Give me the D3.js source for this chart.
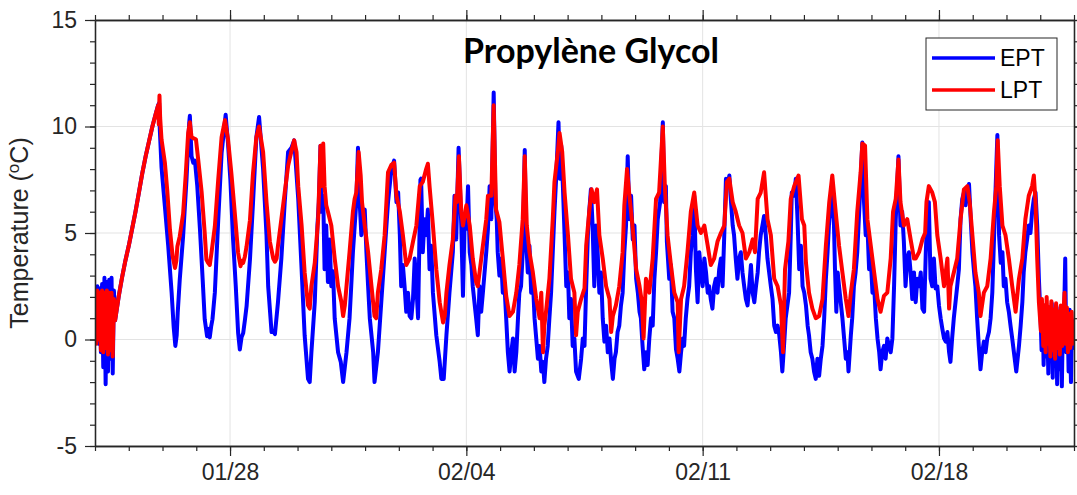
<!DOCTYPE html>
<html>
<head>
<meta charset="utf-8">
<script src="https://cdn.jsdelivr.net/npm/d3@7"></script>
<style>
  body { margin: 0; background: #fff; }
  svg { display: block; }
</style>
</head>
<body>
<svg id="chart" width="1077" height="495"></svg>
<script>
// Record period (UTC) and axis labelling
const startDate = Date.UTC(2019, 0, 24);
const endDate = Date.UTC(2019, 1, 22);
const yTicks = [-5, 0, 5, 10, 15];
const seriesNames = ["EPT", "LPT"];
const chartTitle = "Propylène Glycol";

// Readings: [days since 24 Jan 00:00, temperature °C]
const eptReadings = [
  [0.00,2.2],[0.035,0.3],[0.07,2.5],[0.105,-0.2],[0.14,2.4],[0.175,-0.6],[0.21,2.6],[0.245,-1.3],[0.28,2.9],[0.315,-2.1],
  [0.35,2.7],[0.385,-1.5],[0.42,2.8],[0.455,-0.9],[0.49,2.9],[0.525,-1.6],[0.56,2.3],[0.595,0.9],
  [0.70,2.0],[0.80,2.9],[0.90,3.7],[1.00,4.4],[1.10,5.2],[1.20,6.0],[1.30,6.9],[1.40,7.8],[1.50,8.6],[1.60,9.3],
  [1.70,10.0],[1.80,10.6],[1.87,11.0],[1.90,11.1],
  [1.92,9.85],[1.97,8.1],[2.07,6.25],[2.17,4.37],[2.27,2.2],[2.33,0.6],[2.38,-0.3],[2.42,0.2],[2.45,1.25],[2.51,2.8],
  [2.61,4.84],[2.71,7.5],[2.79,10.15],[2.81,10.5],
  [2.86,8.6],[2.91,8.3],[2.96,8.4],[3.03,7.2],[3.11,5.15],[3.19,2.8],[3.25,0.95],[3.32,0.15],[3.36,0.5],[3.40,0.1],
  [3.44,0.6],[3.48,0.95],[3.55,2.2],[3.65,5.6],[3.75,8.75],[3.87,10.55],
  [3.94,9.2],[4.01,7.5],[4.09,4.7],[4.17,2.5],[4.24,0.3],[4.29,-0.47],[4.34,0.1],[4.39,0.3],[4.44,0.9],[4.49,1.56],
  [4.59,3.75],[4.68,6.4],[4.78,9.5],[4.86,10.45],
  [4.98,8.0],[5.08,4.9],[5.13,2.5],[5.23,0.35],[5.28,0.4],[5.33,0.25],[5.42,1.75],[5.52,3.8],[5.62,6.45],[5.72,8.8],
  [5.82,9.0],[5.90,9.35],
  [6.02,6.6],[6.12,3.3],[6.21,0.2],[6.31,-1.85],[6.36,-2.0],[6.41,-0.6],[6.51,1.75],[6.59,5.35],[6.63,6.45],[6.68,9.1],
  [6.70,6.0],[6.76,6.75],[6.80,3.3],[6.85,5.35],[6.90,2.7],[6.95,4.7],[7.00,2.5],[7.05,3.2],[7.10,1.0],[7.20,-0.6],
  [7.28,-1.05],[7.35,-2.0],[7.45,-0.6],[7.54,1.0],[7.59,2.5],[7.64,4.1],[7.74,6.45],[7.79,9.0],[7.84,6.45],[7.89,4.9],
  [7.94,6.0],[7.99,6.1],[8.04,4.1],[8.09,2.5],[8.14,1.0],[8.24,-0.6],[8.28,-2.0],[8.38,-0.6],[8.48,1.75],[8.58,4.1],
  [8.68,6.45],[8.78,8.0],[8.86,8.4],[8.93,6.45],[8.98,6.9],[9.03,4.9],[9.07,2.5],[9.12,3.5],[9.17,2.5],[9.22,1.3],
  [9.27,2.2],[9.32,1.1],[9.37,1.0],[9.42,1.9],[9.47,3.8],[9.52,2.5],[9.57,1.0],[9.64,7.5],
  [9.66,7.55],[9.71,4.1],[9.76,5.65],[9.81,4.9],[9.86,6.1],[9.91,3.3],[9.96,4.4],[10.01,2.2],[10.11,0.2],[10.21,-1.05],
  [10.26,-1.85],[10.33,-1.85],[10.41,0.2],[10.50,2.2],[10.55,3.15],[10.60,4.1],[10.65,6.75],[10.70,4.7],[10.77,9.0],[10.82,6.75],
  [10.85,5.35],[10.90,2.05],[10.95,5.65],[11.00,5.2],[11.05,7.2],[11.10,4.1],[11.15,3.5],[11.19,2.5],[11.24,1.75],[11.29,1.0],
  [11.34,0.2],[11.39,2.5],[11.44,1.3],[11.49,2.2],[11.54,3.15],[11.59,4.1],[11.64,5.2],[11.69,7.2],[11.74,5.65],[11.81,11.6],
  [11.86,6.45],[11.90,5.65],[11.93,4.1],[11.98,3.0],[12.03,3.8],[12.08,2.2],[12.13,2.5],[12.18,1.0],[12.23,-0.6],[12.28,-1.5],
  [12.33,-0.6],[12.38,0.05],[12.43,-1.5],[12.48,-0.6],[12.53,1.0],[12.57,2.2],[12.62,2.5],[12.67,4.1],[12.73,8.9],[12.77,4.7],
  [12.82,3.15],[12.87,4.4],[12.92,2.2],[12.97,2.85],[13.02,1.0],[13.07,0.05],[13.12,-0.9],[13.17,-0.3],[13.22,-1.5],[13.27,-1.05],
  [13.31,-2.0],[13.36,-0.9],[13.41,-0.3],[13.46,1.0],[13.51,2.2],[13.56,4.1],[13.61,6.0],[13.66,7.55],[13.73,10.2],[13.77,7.55],
  [13.81,9.1],[13.86,7.2],[13.91,4.9],[13.96,2.5],[14.01,3.15],[14.05,1.0],[14.10,1.9],[14.15,-0.3],[14.20,0.05],[14.25,-1.5],
  [14.33,-1.85],[14.40,-0.9],[14.45,0.05],[14.50,-0.3],
  [14.55,2.5],[14.60,4.9],[14.64,6.0],[14.69,7.05],[14.74,5.35],[14.79,2.5],[14.84,5.35],[14.89,4.1],[14.94,2.2],[14.99,3.15],
  [15.04,1.0],[15.09,-0.1],[15.14,0.65],[15.19,-0.6],[15.24,0.05],[15.29,-1.05],[15.34,-1.85],[15.39,-0.9],[15.43,-0.6],[15.48,0.35],
  [15.53,0.65],[15.58,1.6],[15.63,2.2],[15.68,4.1],[15.73,5.35],[15.78,8.6],[15.83,5.65],[15.88,6.75],[15.93,4.7],[15.98,5.35],
  [16.03,2.85],[16.08,2.2],[16.13,1.3],[16.17,1.0],[16.22,-0.3],[16.27,-1.4],[16.32,-0.6],[16.37,-1.2],[16.42,0.05],[16.47,1.0],
  [16.52,0.65],[16.57,2.85],[16.62,4.1],[16.67,5.65],[16.74,6.45],[16.82,10.2],[16.86,6.45],[16.91,7.2],[16.94,4.6],[17.01,2.85],
  [17.06,3.5],[17.11,1.3],[17.16,1.0],[17.21,-0.45],[17.26,-0.9],[17.31,-1.5],[17.36,-0.6],[17.41,0.05],[17.45,-0.3],[17.50,1.0],
  [17.55,1.9],[17.60,2.5],[17.65,4.1],[17.70,4.9],[17.75,6.75],[17.80,3.3],[17.85,1.75],[17.90,4.1],[17.95,3.15],[18.00,2.5],
  [18.05,3.8],[18.10,3.15],[18.15,2.2],[18.19,2.5],[18.24,1.9],[18.29,1.45],[18.34,2.5],[18.39,2.85],[18.44,2.2],[18.49,3.3],
  [18.54,3.8],[18.59,2.5],[18.64,4.9],[18.69,7.55],[18.74,7.2],[18.79,7.7],[18.84,6.45],[18.89,5.35],[18.93,4.9],[18.98,3.8],
  [19.03,2.85],[19.08,3.8],[19.13,4.1],[19.18,3.15],[19.23,2.5],[19.28,1.9],[19.33,1.6],[19.38,2.5],[19.43,3.5],[19.48,2.2],
  [19.53,1.75],[19.58,2.5],[19.63,3.15],[19.67,4.1],[19.72,4.9],[19.77,5.35],[19.82,5.8],[19.87,4.9],[19.92,3.8],[19.97,3.15],
  [20.02,2.5],[20.07,1.9],[20.12,0.65],[20.17,0.35],[20.22,0.65],[20.27,0.2],[20.32,-0.6],[20.36,-1.5],[20.41,-0.3],[20.46,1.0],
  [20.51,1.6],[20.56,2.2],[20.61,4.9],[20.64,6.9],[20.71,6.75],[20.76,7.55],[20.81,5.65],[20.86,3.3],[20.91,4.4],[20.96,2.5],
  [21.01,2.2],[21.06,1.6],[21.11,0.65],[21.15,0.2],[21.20,-0.6],[21.25,-0.9],[21.30,-1.5],[21.35,-1.85],[21.40,-0.9],[21.45,-1.7],
  [21.50,-0.9],[21.55,-0.3],[21.60,1.0],[21.65,2.85],[21.70,4.1],[21.75,5.65],[21.80,6.3],[21.84,6.75],[21.89,5.35],[21.92,3.3],
  [21.96,1.3],[22.00,3.15],[22.04,2.5],[22.09,1.75],[22.14,1.0],[22.19,0.05],[22.24,-0.9],[22.29,-0.6],[22.32,-1.5],[22.39,0.2],
  [22.43,1.0],[22.48,2.5],[22.53,3.15],[22.58,4.1],[22.65,6.45],[22.73,9.25],[22.78,6.45],[22.83,4.9],[22.88,5.35],[22.93,3.3],
  [22.98,3.8],[23.03,2.2],[23.08,2.5],[23.13,1.0],[23.18,0.05],[23.23,-0.6],[23.27,-1.4],[23.32,-0.6],[23.37,-0.3],[23.42,-0.9],
  [23.47,0.05],[23.52,-0.3],[23.57,-0.6],[23.62,0.05],[23.67,2.5],[23.72,5.65],[23.80,8.6],[23.86,5.35],[23.91,6.0],[23.96,4.6],
  [24.01,2.5],[24.06,3.8],[24.11,4.1],
  [24.16,3.15],[24.21,1.9],[24.26,3.15],[24.31,1.75],[24.36,2.85],[24.41,2.5],[24.46,3.15],[24.51,1.45],[24.56,1.3],[24.61,4.1],
  [24.66,6.0],[24.70,6.45],[24.75,2.85],[24.80,2.5],[24.85,3.8],[24.90,2.4],[24.95,2.5],[25.00,1.6],[25.05,1.0],[25.10,0.5],
  [25.15,0.05],[25.20,-0.1],[25.25,0.35],[25.30,-0.6],[25.34,-1.05],[25.39,0.05],[25.44,1.0],[25.49,1.75],[25.54,2.5],[25.59,3.3],
  [25.64,5.65],[25.69,6.6],[25.74,6.9],[25.79,6.3],[25.84,7.05],[25.89,7.3],[25.94,5.65],[25.99,4.1],[26.04,3.15],[26.08,2.5],
  [26.13,1.0],[26.18,-0.3],[26.23,-1.4],[26.28,-0.6],[26.33,-0.1],[26.38,-0.6],[26.43,0.05],[26.48,0.35],[26.53,1.0],[26.58,2.2],
  [26.63,4.7],[26.68,7.2],[26.73,9.6],[26.78,4.9],[26.83,3.6],[26.88,4.1],[26.92,2.5],[26.97,2.85],[27.02,1.75],[27.07,1.3],
  [27.12,0.65],[27.17,0.05],[27.22,-0.6],[27.29,-1.5],[27.37,-0.3],[27.42,0.65],[27.47,1.75],[27.51,3.15],[27.56,4.1],[27.61,4.7],
  [27.66,5.35],[27.71,5.0],[27.76,6.0],[27.81,6.6],[27.86,6.9],[27.91,5.35],[27.96,2.85],[28.01,1.0],
  [28.04,-0.5],[28.07,1.4],[28.10,-1.2],[28.14,1.6],[28.17,-0.8],[28.20,1.2],[28.24,-1.6],[28.27,1.5],[28.30,-1.0],[28.34,1.7],
  [28.37,-1.8],[28.40,1.3],[28.44,-1.2],[28.47,1.6],[28.50,-2.1],[28.54,1.2],[28.57,-1.4],[28.60,1.5],[28.64,-2.2],[28.67,0.8],
  [28.71,1.4],[28.74,3.8],[28.77,-0.6],[28.81,1.2],[28.84,-1.5],[28.87,1.4],[28.91,-2.0],[28.94,0.9],[28.97,-0.4],[29.0,0.6]
];

const lptReadings = [
  [0.00,2.0],[0.035,-0.2],[0.07,2.3],[0.105,0.0],[0.14,2.2],[0.175,-0.5],[0.21,2.3],[0.245,-0.6],[0.28,2.2],[0.315,-0.4],
  [0.35,2.3],[0.385,-0.7],[0.42,2.2],[0.455,-0.5],[0.49,2.2],[0.525,-0.8],[0.56,1.9],[0.595,0.9],
  [0.70,2.0],[0.80,2.9],[0.90,3.7],[1.00,4.4],[1.10,5.2],[1.20,6.0],[1.30,6.9],[1.40,7.8],[1.50,8.6],[1.60,9.3],
  [1.70,10.0],[1.80,10.6],[1.87,11.0],[1.89,10.1],[1.91,11.45],[1.93,10.4],[1.97,9.4],[2.07,8.3],[2.14,7.0],[2.22,5.15],
  [2.30,3.9],[2.37,3.36],[2.41,3.7],[2.44,4.37],[2.51,4.84],[2.61,5.9],[2.69,7.8],[2.76,9.7],[2.81,10.2],[2.86,9.5],
  [2.91,9.45],[2.99,9.4],[3.06,8.4],[3.16,6.9],[3.25,5.0],[3.30,3.75],[3.35,3.6],[3.40,3.5],[3.45,4.06],[3.55,5.3],
  [3.65,7.5],[3.75,9.5],[3.85,10.3],[3.94,9.4],[4.04,7.8],[4.14,5.95],[4.24,4.06],[4.31,3.44],[4.36,3.7],[4.39,3.6],
  [4.44,3.9],[4.49,4.37],[4.59,5.6],[4.68,7.8],[4.78,9.5],[4.86,10.0],
  [4.98,8.8],[5.08,6.45],[5.18,4.6],[5.28,3.8],[5.33,3.65],[5.38,3.8],[5.42,4.4],[5.52,5.65],[5.62,6.9],[5.72,8.15],
  [5.82,8.85],[5.90,9.35],[5.97,8.8],[6.02,7.2],[6.12,5.35],[6.21,3.15],[6.31,1.6],[6.36,1.45],[6.41,2.5],[6.51,3.6],
  [6.61,5.65],[6.68,9.1],[6.70,7.2],[6.76,9.2],[6.80,7.2],[6.85,6.3],[6.90,6.0],[7.00,5.35],[7.10,3.8],[7.20,2.5],
  [7.30,1.75],[7.35,1.1],[7.40,1.6],[7.45,2.5],[7.54,4.1],[7.64,6.0],[7.69,6.6],[7.74,6.9],[7.81,8.8],[7.87,7.7],
  [7.91,6.45],[7.99,5.35],[8.09,4.1],[8.19,2.5],[8.28,1.1],[8.33,1.0],[8.38,2.2],[8.48,3.3],[8.58,4.9],[8.68,7.85],
  [8.78,8.2],[8.86,8.3],[8.93,6.75],[9.03,6.0],[9.12,4.9],[9.22,3.5],[9.32,3.8],[9.42,4.6],[9.52,5.35],[9.62,7.2],
  [9.71,7.4],[9.81,8.0],[9.86,8.25],[9.91,7.2],[10.01,5.35],[10.11,3.3],[10.21,1.75],[10.31,0.8],[10.36,1.1],[10.41,2.2],
  [10.50,3.5],[10.60,4.7],[10.68,6.75],[10.72,6.45],[10.78,8.6],[10.85,6.0],[10.90,5.35],[11.00,6.3],[11.10,5.35],[11.19,3.8],
  [11.29,2.7],[11.34,2.5],[11.39,3.15],[11.49,4.4],[11.59,5.65],[11.64,6.75],[11.74,6.75],[11.81,11.0],[11.88,6.1],[11.98,5.5],
  [12.08,3.8],[12.18,2.05],[12.28,1.1],[12.38,1.3],[12.48,2.2],[12.57,3.5],[12.67,5.65],[12.73,8.6],[12.79,5.35],[12.87,4.1],
  [12.97,3.15],[13.07,1.9],[13.17,1.0],[13.22,2.2],[13.27,-0.6],[13.31,0.65],[13.36,1.3],[13.46,2.85],[13.56,5.65],[13.61,7.4],
  [13.71,8.8],[13.76,9.7],[13.84,8.8],[13.91,6.9],[14.01,4.9],[14.10,2.85],[14.20,2.2],[14.25,0.2],[14.30,1.3],[14.40,1.9],
  [14.50,2.4],[14.55,4.4],[14.64,6.0],[14.71,7.05],[14.79,6.45],[14.87,7.05],[14.94,4.9],[15.04,3.8],[15.14,2.5],[15.24,1.9],
  [15.29,0.35],[15.34,1.1],[15.43,1.6],[15.53,2.5],[15.63,4.1],[15.68,6.3],[15.76,8.0],[15.83,6.75],[15.93,5.2],[16.03,3.3],
  [16.13,2.5],[16.20,1.75],[16.25,0.05],[16.32,2.85],[16.42,2.2],[16.52,3.8],[16.62,6.6],[16.71,6.9],[16.82,10.0],[16.88,7.2],
  [16.96,4.9],[17.06,3.5],[17.16,2.2],[17.26,1.75],[17.29,-0.6],[17.36,1.9],[17.45,2.5],[17.55,4.1],[17.65,6.0],[17.75,6.9],
  [17.85,5.35],[17.95,5.0],[18.05,5.35],[18.15,4.4],[18.24,3.5],[18.34,3.8],[18.44,4.6],[18.54,5.0],[18.64,5.35],[18.72,7.4],
  [18.79,7.55],[18.89,6.45],[18.98,6.0],[19.08,5.35],[19.18,5.0],[19.28,3.8],[19.38,4.1],
  [19.48,4.7],[19.55,4.1],[19.63,6.6],[19.72,6.9],[19.82,7.85],[19.92,5.65],[20.02,4.9],[20.12,2.85],[20.22,2.5],[20.32,1.6],
  [20.38,-0.6],[20.44,3.3],[20.54,4.6],[20.61,6.6],[20.71,7.2],[20.84,7.7],[20.94,5.65],[21.01,5.35],[21.06,3.6],[21.15,2.2],
  [21.25,1.45],[21.35,1.0],[21.45,1.1],[21.55,1.9],[21.65,4.4],[21.75,6.45],[21.84,7.7],[21.94,6.0],[22.04,4.4],[22.14,3.15],
  [22.24,1.9],[22.32,1.1],[22.39,2.2],[22.48,3.3],[22.58,6.0],[22.68,7.85],[22.73,9.2],[22.81,9.1],[22.88,5.65],[22.98,4.4],
  [23.08,3.15],[23.18,1.9],[23.27,1.3],[23.37,2.05],[23.47,2.2],[23.57,3.8],[23.64,6.0],[23.72,6.6],[23.80,8.45],[23.86,6.45],
  [23.96,5.35],[24.06,5.65],[24.16,4.7],[24.26,3.8],
  [24.31,3.8],[24.41,4.1],[24.51,4.7],[24.59,5.0],[24.63,6.45],[24.70,7.2],[24.80,6.9],[24.88,6.45],[24.95,4.9],[25.05,3.8],
  [25.15,2.5],[25.25,3.8],[25.30,1.45],[25.34,2.5],[25.44,3.15],[25.54,3.8],[25.64,5.65],[25.74,7.05],[25.84,7.2],[25.91,6.45],
  [25.99,4.9],[26.08,3.15],[26.18,2.2],[26.23,1.1],[26.33,2.2],[26.43,2.5],[26.53,3.8],[26.63,6.0],[26.70,7.2],[26.74,9.35],
  [26.80,7.2],[26.88,5.35],[26.97,4.9],[27.07,3.8],[27.17,2.5],[27.27,1.3],[27.37,2.85],[27.47,3.8],[27.56,5.65],[27.66,6.75],
  [27.76,7.2],[27.81,7.7],[27.86,6.45],[27.91,3.8],[27.96,1.75],
  [28.02,0.4],[28.05,1.9],[28.09,-0.3],[28.12,1.6],[28.16,-0.6],[28.19,2.0],[28.23,-0.2],[28.26,1.5],[28.30,-0.8],[28.33,1.8],
  [28.37,-0.5],[28.40,1.4],[28.44,-0.9],[28.47,1.7],[28.51,-0.4],[28.54,1.3],[28.58,-0.7],[28.61,1.6],[28.65,-0.3],[28.68,1.0],
  [28.72,2.2],[28.75,-0.2],[28.79,1.5],[28.82,-0.6],[28.86,1.2],[28.89,-0.4],[28.93,1.3],[28.96,-0.2],[29.0,0.8]
];

// ---- Layout ----
const svg = d3.select("#chart");
const plot = { left: 95, right: 1074, top: 20, bottom: 446 };
const axisColor = "#262626";
const tickFont = "'Liberation Sans', Arial, Helvetica, sans-serif";
const DAY = 864e5;

const x = d3.scaleUtc()
  .domain([new Date(startDate), new Date(endDate)])
  .range([plot.left, plot.right]);
const y = d3.scaleLinear()
  .domain([d3.min(yTicks), d3.max(yTicks)])
  .range([plot.bottom, plot.top]);

const majorDates = d3.utcMonday.range(x.domain()[0], x.domain()[1]);
const minorDates = d3.utcDay.range(x.domain()[0], new Date(endDate + 1));
const minorY = d3.range(d3.min(yTicks), d3.max(yTicks) + 0.5, 1);
const fmt = d3.utcFormat("%m/%d");

// Grid lines at major ticks
const grid = svg.append("g").attr("stroke", "#e3e3e3").attr("stroke-width", 1);
grid.selectAll("line.gx").data(majorDates).join("line")
  .attr("x1", d => x(d)).attr("x2", d => x(d))
  .attr("y1", plot.top).attr("y2", plot.bottom);
grid.selectAll("line.gy").data(yTicks).join("line")
  .attr("x1", plot.left).attr("x2", plot.right)
  .attr("y1", d => y(d)).attr("y2", d => y(d));

// Series lines
svg.append("defs").append("clipPath").attr("id", "clip")
  .append("rect").attr("x", plot.left).attr("y", plot.top)
  .attr("width", plot.right - plot.left).attr("height", plot.bottom - plot.top);

const line = d3.line()
  .x(d => x(new Date(startDate + d[0] * DAY)))
  .y(d => y(d[1]));

const series = [
  { name: seriesNames[0], data: eptReadings, color: "#0000ff" },
  { name: seriesNames[1], data: lptReadings, color: "#ff0000" }
];

svg.append("g").attr("clip-path", "url(#clip)")
  .selectAll("path").data(series).join("path")
  .attr("d", d => line(d.data))
  .attr("fill", "none")
  .attr("stroke", d => d.color)
  .attr("stroke-width", 4)
  .attr("stroke-linejoin", "round")
  .attr("stroke-linecap", "round");

// ---- Axes (ticks outward on all four sides) ----
function styleAxis(g) {
  g.select(".domain").attr("stroke", axisColor).attr("stroke-width", 1.3);
  g.selectAll(".tick line").attr("stroke", axisColor).attr("stroke-width", 1.2);
  g.selectAll(".tick text").attr("fill", axisColor)
    .style("font-family", tickFont).style("font-size", "23px");
}

// bottom
svg.append("g").attr("transform", `translate(0,${plot.bottom})`)
  .call(d3.axisBottom(x).tickValues(minorDates).tickSize(5).tickSizeOuter(0).tickFormat(""))
  .call(styleAxis);
svg.append("g").attr("transform", `translate(0,${plot.bottom})`)
  .call(d3.axisBottom(x).tickValues(majorDates).tickSize(10).tickSizeOuter(0).tickPadding(8).tickFormat(fmt))
  .call(styleAxis);
// top
svg.append("g").attr("transform", `translate(0,${plot.top})`)
  .call(d3.axisTop(x).tickValues(minorDates).tickSize(5).tickSizeOuter(0).tickFormat(""))
  .call(styleAxis);
svg.append("g").attr("transform", `translate(0,${plot.top})`)
  .call(d3.axisTop(x).tickValues(majorDates).tickSize(10).tickSizeOuter(0).tickFormat(""))
  .call(styleAxis);
// left (plain hyphen for negative labels)
svg.append("g").attr("transform", `translate(${plot.left},0)`)
  .call(d3.axisLeft(y).tickValues(minorY).tickSize(5).tickSizeOuter(0).tickFormat(""))
  .call(styleAxis);
svg.append("g").attr("transform", `translate(${plot.left},0)`)
  .call(d3.axisLeft(y).tickValues(yTicks).tickSize(10).tickSizeOuter(0).tickPadding(8).tickFormat(d => String(d)))
  .call(styleAxis);
// right
svg.append("g").attr("transform", `translate(${plot.right},0)`)
  .call(d3.axisRight(y).tickValues(minorY).tickSize(5).tickSizeOuter(0).tickFormat(""))
  .call(styleAxis);
svg.append("g").attr("transform", `translate(${plot.right},0)`)
  .call(d3.axisRight(y).tickValues(yTicks).tickSize(10).tickSizeOuter(0).tickFormat(""))
  .call(styleAxis);

// ---- Y axis title with superscript ----
const yTitle = svg.append("text")
  .attr("transform", `translate(28,${(plot.top + plot.bottom) / 2}) rotate(-90)`)
  .attr("text-anchor", "middle")
  .attr("fill", axisColor)
  .style("font-family", tickFont)
  .style("font-size", "25px");
yTitle.append("tspan").text("Temperature (");
yTitle.append("tspan").text("o").attr("baseline-shift", "super").style("font-size", "17px");
yTitle.append("tspan").text("C)");

// ---- Title ----
svg.append("text")
  .attr("x", 591).attr("y", 63)
  .attr("text-anchor", "middle")
  .attr("fill", "#000")
  .style("font-family", "Lato, 'Open Sans', sans-serif")
  .style("font-weight", "bold")
  .style("font-size", "34px")
  .text(chartTitle);

// ---- Legend ----
const legend = svg.append("g");
legend.append("rect")
  .attr("x", 926).attr("y", 38).attr("width", 131).attr("height", 72)
  .attr("fill", "#fff").attr("stroke", axisColor).attr("stroke-width", 1);
const items = legend.selectAll("g.item").data(series).join("g")
  .attr("transform", (d, i) => `translate(932,${58 + i * 32})`);
items.append("line")
  .attr("x1", 0).attr("x2", 63).attr("y1", 0).attr("y2", 0)
  .attr("stroke", d => d.color).attr("stroke-width", 3.4);
items.append("text")
  .attr("x", 68).attr("y", 0).attr("dy", "0.35em")
  .attr("fill", "#000")
  .style("font-family", tickFont).style("font-size", "23px")
  .text(d => d.name);
</script>
</body>
</html>
